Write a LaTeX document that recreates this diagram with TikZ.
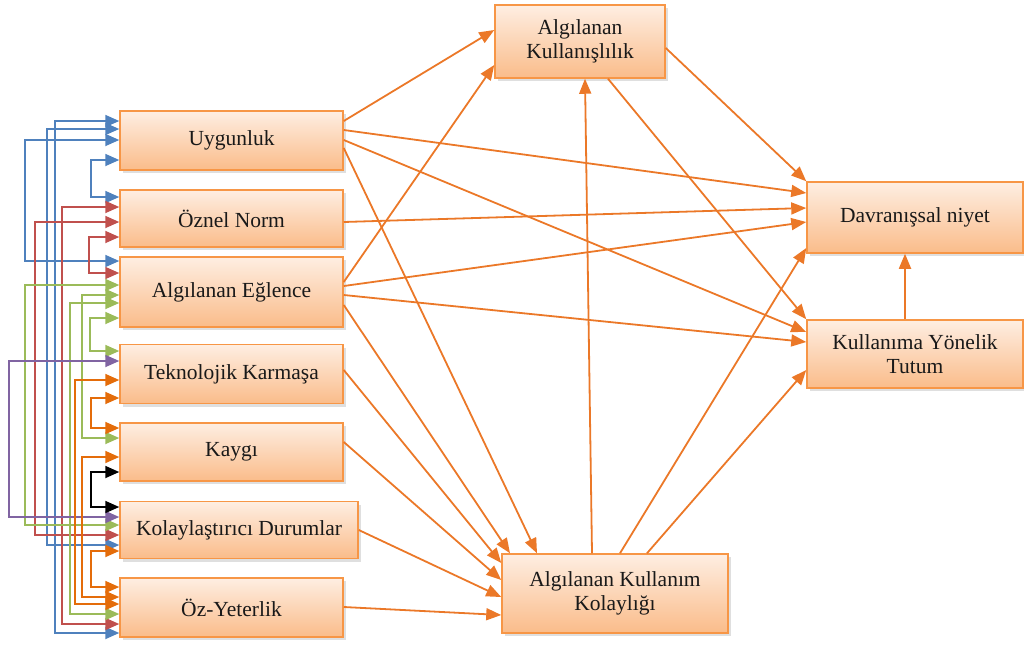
\documentclass[tikz,border=0pt]{standalone}
\usepackage{fontspec}
\setmainfont{Liberation Serif}
\usetikzlibrary{arrows.meta,shadows}
\definecolor{boxline}{RGB}{247,150,70}
\definecolor{boxtop}{RGB}{254,238,226}
\definecolor{boxbot}{RGB}{250,188,138}
\definecolor{pathcol}{RGB}{235,120,40}
\definecolor{corrblue}{RGB}{79,129,189}
\definecolor{corrred}{RGB}{192,80,77}
\definecolor{corrgreen}{RGB}{155,187,89}
\definecolor{corrpurple}{RGB}{128,100,162}
\definecolor{corrorange}{RGB}{228,108,10}
\tikzset{
  % construct box
  cbox/.style={rectangle, draw=boxline, line width=1.5pt, top color=boxtop, bottom color=boxbot,
               minimum width=#1, minimum height=58pt, align=center, inner sep=2pt,
               font=\fontsize{21.5}{24}\selectfont, text=black!90,
               drop shadow={shadow xshift=3pt, shadow yshift=-3pt, opacity=0.25}},
  cbox/.default={223pt},
  % hypothesised path
  hyp/.style={-{Triangle[length=15pt,width=12pt]}, line width=1.8pt, pathcol},
  % correlation between exogenous constructs
  corr/.style={{Triangle[length=14pt,width=12pt]}-{Triangle[length=14pt,width=12pt]},
               line width=1.8pt, color=#1},
  corr/.default={black},
}

\begin{document}
\begin{tikzpicture}[x=1pt, y=-1pt]
  \useasboundingbox (0,0) rectangle (1024,648);
  % exogenous constructs
  \node[cbox, minimum height=59pt] (uyg) at (231.5,140.5) {Uygunluk};
  \node[cbox, minimum height=57pt] (ozn) at (231.5,218.5) {Öznel Norm};
  \node[cbox, minimum height=70pt] (egl) at (231.5,292) {Algılanan Eğlence};
  \node[cbox, minimum height=59pt] (tek) at (231.5,374) {Teknolojik Karmaşa};
  \node[cbox, minimum height=58pt] (kay) at (231.5,452) {Kaygı};
  \node[cbox=238pt, minimum height=57pt] (kol) at (239,530) {Kolaylaştırıcı Durumlar};
  \node[cbox, minimum height=59pt] (ozy) at (231.5,607.5) {Öz-Yeterlik};
  % endogenous constructs
  \node[cbox=170pt, minimum height=73pt] (kul) at (580,41.5) {Algılanan\\Kullanışlılık};
  \node[cbox=216pt, minimum height=71pt] (dav) at (915,217.5) {Davranışsal niyet};
  \node[cbox=216pt, minimum height=68pt] (tut) at (915,354) {Kullanıma Yönelik\\Tutum};
  \node[cbox=226pt, minimum height=79pt] (kok) at (615,593.5) {Algılanan Kullanım\\Kolaylığı};

  % correlations on the left
  \foreach \c/\a/\ya/\xx/\b/\yb in {
      corrblue/uyg/160/91/ozn/197, corrblue/uyg/140/25/egl/261,
      corrblue/uyg/129/47/kol/545, corrblue/uyg/121/55/ozy/633,
      corrred/ozn/237/89/egl/273, corrred/ozn/222/35/kol/535,
      corrred/ozn/207/62/ozy/624,
      corrgreen/egl/318/90/tek/351, corrgreen/egl/285/25/kol/525,
      corrgreen/egl/295/82/kay/438, corrgreen/egl/303/70/ozy/614,
      corrpurple/tek/361/9/kol/517,
      corrorange/tek/398/91/kay/428, corrorange/tek/380/75/ozy/604,
      corrorange/kay/457/82/ozy/597,
      black/kay/472/91/kol/507,
      corrorange/kol/551/91/ozy/587}
    \draw[corr=\c] (\a.west |- 0,\ya) -| (\xx,\yb) -- (\b.west |- 0,\yb);

  % paths
  \draw[hyp] (uyg.east |- 0,121) -- (kul.west |- 0,30);
  \draw[hyp] (uyg.east |- 0,130) -- (dav.west |- 0,193);
  \draw[hyp] (uyg.east |- 0,140) -- (tut.west |- 0,332);
  \draw[hyp] (uyg.east |- 0,148) -- (kok.north -| 537,0);
  \draw[hyp] (ozn.east |- 0,222) -- (dav.west |- 0,208);
  \draw[hyp] (egl.east |- 0,282) -- (kul.west |- 0,65);
  \draw[hyp] (egl.east |- 0,286) -- (dav.west |- 0,222);
  \draw[hyp] (egl.east |- 0,295) -- (tut.west |- 0,342);
  \draw[hyp] (egl.east |- 0,305) -- (kok.north -| 510,0);
  \draw[hyp] (tek.east |- 0,370) -- (kok.west |- 0,563);
  \draw[hyp] (kay.east |- 0,442) -- (kok.west |- 0,580);
  \draw[hyp] (kol.east |- 0,530) -- (kok.west |- 0,597);
  \draw[hyp] (ozy.east |- 0,607) -- (kok.west |- 0,615);
  \draw[hyp] (kul.east |- 0,48) -- (dav.north west);
  \draw[hyp] (kul.south -| 608,0) -- (tut.north west);
  \draw[hyp] (kok.north -| 592,0) -- (kul.south -| 585,0);
  \draw[hyp] (kok.north -| 620,0) -- (dav.west |- 0,248);
  \draw[hyp] (kok.north -| 647,0) -- (tut.west |- 0,370);
  \draw[hyp] (tut.north -| 905,0) -- (dav.south -| 905,0);
\end{tikzpicture}
\end{document}
